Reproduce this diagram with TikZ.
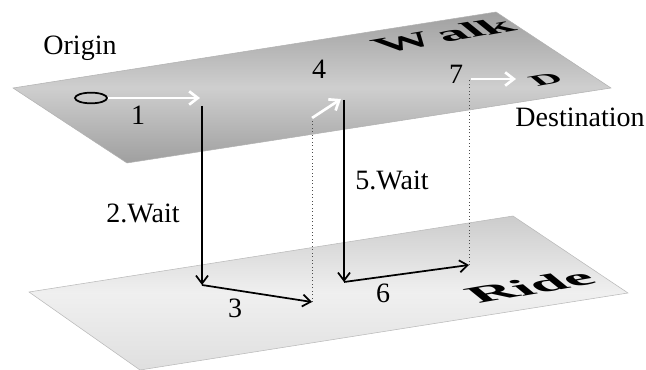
\documentclass[tikz,border=0pt]{standalone}
\usepackage{fontspec}
\setmainfont{Liberation Serif}
\usetikzlibrary{arrows.meta,shapes.geometric}
\begin{document}
\begin{tikzpicture}[x=0.75pt,y=-0.75pt,
  lbl/.style={font=\fontsize{21}{24}\selectfont,anchor=base,inner sep=0pt},
  plane/.style={inner sep=0pt,cm={0.98,0.17,-0.42,0.34,(0pt,0pt)}},
  blk/.style={draw=black,line width=1.3pt,-{Straight Barb[length=6pt,width=9pt,line width=1.3pt]}},
  wht/.style={draw=white,line width=2pt,-{Straight Barb[length=6.5pt,width=10pt,line width=2pt]}},
  dot/.style={draw=black!70,dotted,line width=0.6pt}]
\useasboundingbox (0,0) rectangle (646,370);
% planes
\path[draw=gray!60,line width=0.4pt,shading angle=-10,top color=gray!75,bottom color=gray!75,middle color=gray!38]
  (13,88) -- (496,12) -- (611,88) -- (127,163) -- cycle;
\path[draw=gray!55,line width=0.4pt,shading angle=-10,top color=gray!40,bottom color=gray!25,middle color=gray!12]
  (29,292) -- (513,216) -- (628,293) -- (140,370) -- cycle;
% plane labels
\node[plane,font=\bfseries\fontsize{42}{42}\selectfont] (walk) at (443,35) {W\kern5pt alk};
\node[plane,font=\bfseries\fontsize{46}{46}\selectfont] (ride) at (530,286) {Ride};
\node[plane,font=\bfseries\fontsize{30}{30}\selectfont] (dest) at (546,80) {D};
% origin
\node[draw=black,line width=1.3pt,ellipse,minimum width=24pt,minimum height=8pt,inner sep=0pt] (O) at (91,98) {};
% coordinates
\coordinate (a1) at (200,98);
\coordinate (a2) at (202,106);
\coordinate (b2) at (202,285);
\coordinate (b3) at (312,302);
\coordinate (a4s) at (312,118);
\coordinate (a4e) at (341,99);
\coordinate (a5) at (344,100);
\coordinate (b5) at (344,282);
\coordinate (b6) at (469,265);
\coordinate (a7s) at (469,80);
\coordinate (a7w) at (471,79);
\coordinate (a7e) at (516,79);
% connectors
\draw[wht] (O.east) -- (a1);
\draw[blk] (a2) -- (b2);
\draw[blk] (b2) -- (b3);
\draw[dot] (b3) -- (a4s);
\draw[wht] (a4s) -- (a4e);
\draw[blk] (a5) -- (b5);
\draw[blk] (b5) -- (b6);
\draw[dot] (b6) -- (a7s);
\draw[wht] (a7w) -- (a7e);
% labels
\node[lbl] (origin) at (80,55) {Origin};
\node[lbl] (destination) at (580,127) {Destination};
\node[lbl] (n1) at (138,125) {1};
\node[lbl] (n2) at (143,223) {2.Wait};
\node[lbl] (n3) at (235,317) {3};
\node[lbl] (n4) at (319,79) {4};
\node[lbl] (n5) at (392,190) {5.Wait};
\node[lbl] (n6) at (383,302) {6};
\node[lbl] (n7) at (456,84) {7};
\end{tikzpicture}
\end{document}
